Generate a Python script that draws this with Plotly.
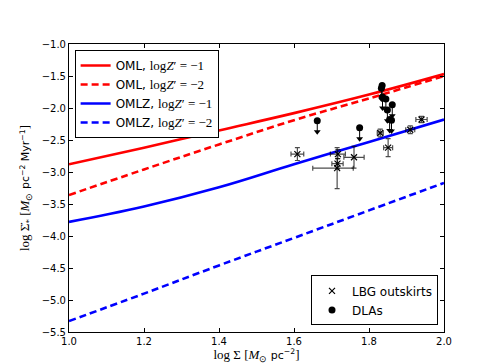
import plotly.graph_objects as go

# model curves
sigma_grid = [1.0, 1.2, 1.4, 1.6, 1.8, 2.0]
oml_z1 = [-2.88, -2.62, -2.35, -2.08, -1.79, -1.47]
oml_z2 = [-3.36, -2.96, -2.57, -2.19, -1.85, -1.50]
omlz_z1 = [-3.78, -3.54, -3.24, -2.88, -2.53, -2.18]
omlz_z2 = [-5.33, -4.90, -4.46, -4.03, -3.60, -3.17]

# LBG outskirts
lbg_x = [1.609, 1.717, 1.716, 1.715, 1.760, 1.830, 1.851, 1.910, 1.940]
lbg_y = [-2.72, -2.72, -2.87, -2.94, -2.77, -2.39, -2.62, -2.34, -2.18]
lbg_xerr_plus = [0.017, 0.020, 0.015, 0.043, 0.027, 0.008, 0.012, 0.012, 0.015]
lbg_xerr_minus = [0.017, 0.020, 0.015, 0.065, 0.027, 0.008, 0.012, 0.012, 0.015]
lbg_yerr = [0.10, 0.07, 0.08, 0.32, 0.17, 0.06, 0.14, 0.06, 0.05]

# DLAs (upper limits)
dla_x = [1.662, 1.775, 1.835, 1.833, 1.836, 1.845, 1.849, 1.862, 1.855, 1.860]
dla_y = [-2.20, -2.31, -1.65, -1.69, -1.83, -1.86, -2.03, -1.95, -2.18, -2.19]
arrow_len = 0.2

SERIF = "Liberation Serif"

def lab(model, z):
    return (f"{model}, <span style='font-family:{SERIF};font-size:13px'>log<i>Z</i>′ = −{z}</span>")

fig = go.Figure()

dash = "7px,4px"
for name, ys, color, d in [
    (lab("OML", 1), oml_z1, "#ff0000", "solid"),
    (lab("OML", 2), oml_z2, "#ff0000", dash),
    (lab("OMLZ", 1), omlz_z1, "#0000ff", "solid"),
    (lab("OMLZ", 2), omlz_z2, "#0000ff", dash),
]:
    fig.add_trace(go.Scatter(x=sigma_grid, y=ys, mode="lines", name=name,
                             line=dict(color=color, width=2.6, dash=d,
                                       shape="spline", smoothing=1.2),
                             legend="legend"))

fig.add_trace(go.Scatter(
    x=lbg_x, y=lbg_y, mode="markers", name="LBG outskirts",
    marker=dict(symbol="x-thin", size=6, line=dict(color="black", width=1.2)),
    error_x=dict(type="data", array=lbg_xerr_plus, arrayminus=lbg_xerr_minus,
                 color="rgba(0,0,0,0.7)", thickness=1.2, width=2.5),
    error_y=dict(type="data", array=lbg_yerr, color="rgba(0,0,0,0.7)",
                 thickness=1.2, width=2.5),
    legend="legend2"))

fig.add_trace(go.Scatter(
    x=dla_x, y=dla_y, mode="markers", name="DLAs",
    marker=dict(symbol="circle", size=7, color="black"),
    error_y=dict(type="data", symmetric=False, array=[0] * len(dla_y),
                 arrayminus=[arrow_len] * len(dla_y), color="black",
                 thickness=1, width=0),
    legend="legend2"))

fig.add_trace(go.Scatter(
    x=dla_x, y=[v - arrow_len + 0.03 for v in dla_y], mode="markers",
    marker=dict(symbol="triangle-down", size=6, color="black"),
    showlegend=False, hoverinfo="skip"))

axis_common = dict(showline=True, linecolor="black", linewidth=1, mirror="ticks",
                   ticks="inside", ticklen=4, tickcolor="black", showgrid=False,
                   zeroline=False, tickfont=dict(family="DejaVu Sans", size=10, color="black"))

fig.update_layout(
    width=485, height=363,
    margin=dict(l=61, r=49, t=36, b=36),
    paper_bgcolor="white", plot_bgcolor="white",
    font=dict(family="DejaVu Sans", size=12, color="black"),
    xaxis=dict(range=[1.0, 2.0], dtick=0.2, tick0=1.0, tickformat=".1f",
               title=dict(text=f"<span style='font-family:{SERIF};font-size:13px'>log Σ [<i>M</i><sub>⊙</sub></span> pc<sup>−2</sup><span style='font-family:{SERIF};font-size:13px'>]</span>",
                          font=dict(size=11), standoff=4),
               **axis_common),
    yaxis=dict(range=[-5.5, -1.0], dtick=0.5, tick0=-5.5, tickformat=".1f",
               title=dict(text=f"<span style='font-family:{SERIF};font-size:13px'>log Σ̇<sub>*</sub> [<i>M</i><sub>⊙</sub></span> pc<sup>−2</sup> Myr<sup>−1</sup><span style='font-family:{SERIF};font-size:13px'>]</span>",
                          font=dict(size=11), standoff=9),
               **axis_common),
    legend=dict(x=0.015, y=0.979, xanchor="left", yanchor="top",
                bordercolor="black", borderwidth=1, bgcolor="white",
                font=dict(family="DejaVu Sans", size=12), tracegroupgap=0),
    legend2=dict(x=0.984, y=0.023, xanchor="right", yanchor="bottom",
                 bordercolor="black", borderwidth=1, bgcolor="white",
                 font=dict(family="DejaVu Sans", size=12)),
    showlegend=True,
)

fig.write_html("out.html")
